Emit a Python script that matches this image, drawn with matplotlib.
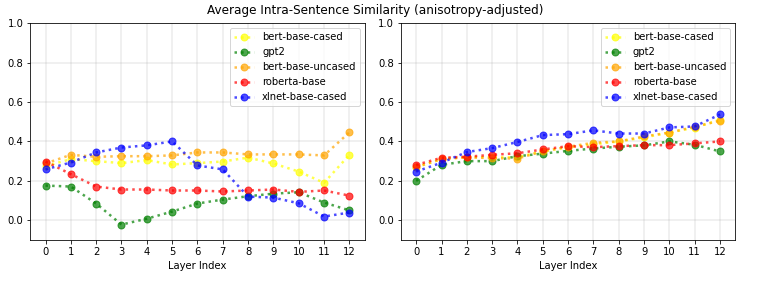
import matplotlib
matplotlib.use('Agg')
from matplotlib import pyplot as plt
import numpy as np

layers = list(range(13))
models = ['bert-base-cased', 'gpt2', 'bert-base-uncased', 'roberta-base', 'xlnet-base-cased']
colors = ['yellow', 'green', 'orange', 'red', 'blue']

# left panel
left_bert_cased = [0.275, 0.31, 0.30, 0.29, 0.305, 0.283, 0.29, 0.298, 0.318, 0.288, 0.247, 0.19, 0.332]
left_gpt2 = [0.176, 0.171, 0.085, -0.022, 0.008, 0.044, 0.085, 0.105, 0.122, 0.135, 0.142, 0.09, 0.05]
left_bert_uncased = [0.288, 0.332, 0.322, 0.325, 0.325, 0.329, 0.344, 0.344, 0.334, 0.334, 0.334, 0.329, 0.446]
left_roberta = [0.298, 0.234, 0.171, 0.156, 0.156, 0.151, 0.151, 0.146, 0.151, 0.156, 0.144, 0.151, 0.125]
left_xlnet = [0.258, 0.293, 0.344, 0.369, 0.38, 0.40, 0.278, 0.258, 0.12, 0.115, 0.086, 0.019, 0.039]

# right panel
right_bert_cased = [0.27, 0.31, 0.32, 0.32, 0.32, 0.35, 0.37, 0.385, 0.40, 0.42, 0.445, 0.47, 0.51]
right_gpt2 = [0.20, 0.281, 0.30, 0.30, 0.325, 0.338, 0.352, 0.364, 0.373, 0.38, 0.40, 0.383, 0.349]
right_bert_uncased = [0.27, 0.31, 0.32, 0.315, 0.313, 0.35, 0.373, 0.393, 0.40, 0.425, 0.445, 0.474, 0.505]
right_roberta = [0.281, 0.317, 0.322, 0.332, 0.34, 0.359, 0.376, 0.371, 0.376, 0.381, 0.381, 0.39, 0.40]
right_xlnet = [0.247, 0.292, 0.346, 0.366, 0.397, 0.432, 0.437, 0.456, 0.44, 0.44, 0.471, 0.476, 0.537]

left = [left_bert_cased, left_gpt2, left_bert_uncased, left_roberta, left_xlnet]
right = [right_bert_cased, right_gpt2, right_bert_uncased, right_roberta, right_xlnet]

fig = plt.figure(figsize=(758 / 72, 282 / 72), dpi=72)
ax1 = fig.add_axes([0.040, 0.149, 0.441, 0.769])
ax2 = fig.add_axes([0.529, 0.149, 0.441, 0.769])

for ax, series in [(ax1, left), (ax2, right)]:
    for name, vals, c in zip(models, series, colors):
        ax.plot(layers, vals, linestyle=':', marker='o', color=c, alpha=0.7,
                linewidth=2.5, markersize=7, label=name)
    ax.set_ylim(-0.1, 1.0)
    ax.set_xlim(-0.6, 12.6)
    ax.set_xticks(layers)
    ax.set_yticks(np.arange(0, 1.01, 0.2))
    ax.grid(linewidth=1.5, alpha=0.25)
    ax.set_xlabel('Layer Index')
    ax.legend(loc='upper right')

fig.suptitle('Average Intra-Sentence Similarity (anisotropy-adjusted)', fontsize=12, x=0.495, y=0.985)
fig.savefig('out.png', dpi=72)
